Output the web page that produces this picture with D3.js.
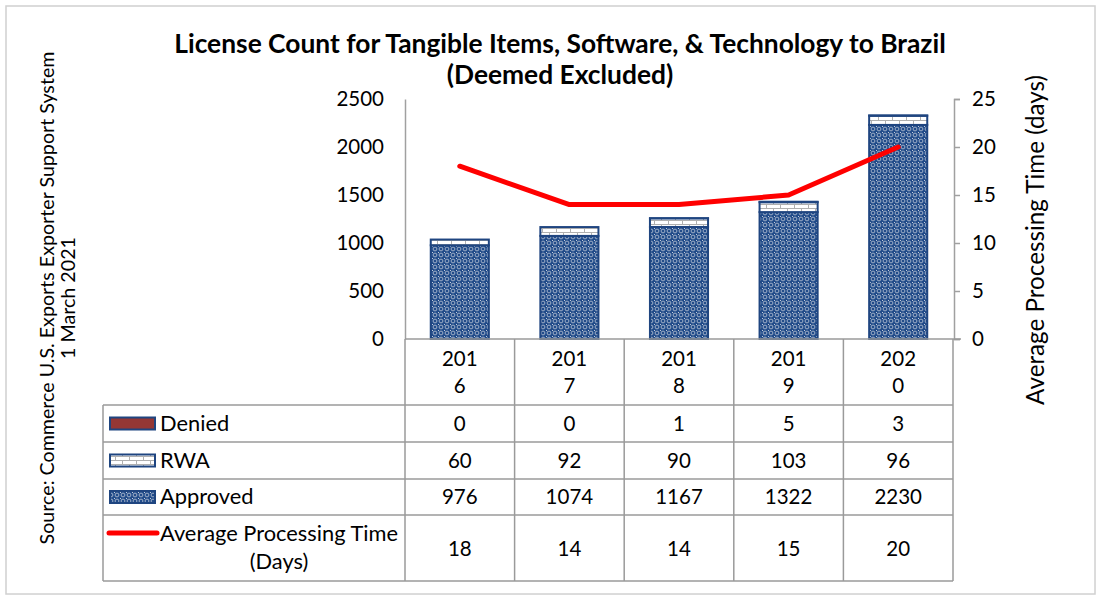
<!DOCTYPE html>
<html><head><meta charset="utf-8">
<script src="https://cdn.jsdelivr.net/npm/d3@7"></script>
<style>body{margin:0;background:#fff;}svg text{font-family:Lato,"Open Sans",sans-serif;fill:#000;}</style>
</head><body>
<svg id="c" width="1101" height="600"></svg>
<script>
const years = ["2016","2017","2018","2019","2020"];
const denied = [0,0,1,5,3];
const rwa = [60,92,90,103,96];
const approved = [976,1074,1167,1322,2230];
const avgDays = [18,14,14,15,20];
const leftTicks = [0,500,1000,1500,2000,2500];
const rightTicks = [0,5,10,15,20,25];
const titleLines = ["License Count for Tangible Items, Software, & Technology to Brazil","(Deemed Excluded)"];
const sourceLines = ["Source: Commerce U.S. Exports Exporter Support System","1 March 2021"];
const rightTitle = "Average Processing Time (days)";

const svg = d3.select("#c");
const defs = svg.append("defs");
const blue = "#1f4580";
const numSize = 20.5;

function fit(sel, w){
  sel.attr("font-size",100);
  const l = sel.node().getComputedTextLength();
  const fs = 100*w/l;
  sel.attr("font-size",fs);
  return fs;
}

// Approved pattern
const pA = defs.append("pattern").attr("id","pApp").attr("patternUnits","userSpaceOnUse").attr("width",6).attr("height",6);
pA.append("rect").attr("width",6).attr("height",6).attr("fill","#224c8a");
pA.append("circle").attr("cx",3).attr("cy",3).attr("r",1.9).attr("fill","none").attr("stroke","#a9b7cc").attr("stroke-width",0.9);
pA.append("rect").attr("x",0).attr("y",0).attr("width",1).attr("height",1).attr("fill","#c4cedc");
// RWA pattern (brick)
const pR = defs.append("pattern").attr("id","pRwa").attr("patternUnits","userSpaceOnUse").attr("width",14).attr("height",8);
pR.append("rect").attr("width",14).attr("height",8).attr("fill","#fff");
pR.append("path").attr("d","M0,0.5H14M0,4.5H14M3.5,0V4M10.5,4V8").attr("stroke","#b0b0b0").attr("stroke-width",1).attr("fill","none");

const x0 = 405, x1 = 953, yTop = 99, yBot = 339;
const x = d3.scaleBand().domain(years).range([x0,x1]).padding(0);
const yL = d3.scaleLinear().domain([0,2500]).range([yBot,yTop]);
const yR = d3.scaleLinear().domain([0,25]).range([yBot,yTop]);
const barW = x.bandwidth()*0.53;

// outer border
svg.append("rect").attr("x",6).attr("y",6).attr("width",1089).attr("height",588).attr("fill","none").attr("stroke","#d0d0d0").attr("stroke-width",1.5);

// title
const t1 = svg.append("text").attr("x",560).attr("y",53).attr("text-anchor","middle").attr("font-weight","bold").text(titleLines[0]);
const tfs = fit(t1, 772);
svg.append("text").attr("x",560).attr("y",84).attr("text-anchor","middle").attr("font-weight","bold").attr("font-size",tfs).text(titleLines[1]);

// source
const src = svg.append("g").attr("transform","translate(0,298) rotate(-90)");
const s1 = src.append("text").attr("x",0).attr("y",54).attr("text-anchor","middle").text(sourceLines[0]);
const sfs = fit(s1, 493);
src.append("text").attr("x",0).attr("y",75).attr("text-anchor","middle").attr("font-size",sfs).text(sourceLines[1]);

// right title
const rt = svg.append("text").attr("transform","translate(1044,240) rotate(-90)").attr("text-anchor","middle").text(rightTitle);
fit(rt, 330);

// bars
const data = years.map((y,i)=>({year:y,Approved:approved[i],RWA:rwa[i],Denied:denied[i]}));
const stack = d3.stack().keys(["Approved","RWA","Denied"])(data);
const fills = {Approved:"url(#pApp)",RWA:"url(#pRwa)",Denied:"#953735"};
stack.forEach(s=>{
  svg.append("g").selectAll("rect").data(s).join("rect")
    .attr("x",d=>x(d.data.year)+(x.bandwidth()-barW)/2)
    .attr("y",d=>yL(d[1]))
    .attr("width",barW)
    .attr("height",d=>Math.max(0,yL(d[0])-yL(d[1])))
    .attr("fill",fills[s.key]).attr("stroke",blue).attr("stroke-width",2);
});

// left axis
const gL = svg.append("g").attr("transform",`translate(${x0},0)`).call(d3.axisLeft(yL).tickValues(leftTicks).tickFormat(d3.format("d")).tickSize(0).tickPadding(21));
gL.select(".domain").attr("stroke","#a0a0a0").attr("stroke-width",1.5);
gL.selectAll("text").attr("font-size",numSize).attr("font-family","Lato");
// right axis
const gR = svg.append("g").attr("transform",`translate(${x1+1},0)`).call(d3.axisRight(yR).tickValues(rightTicks).tickSize(6).tickSizeOuter(6).tickPadding(12));
gR.select(".domain").attr("stroke","#a0a0a0").attr("stroke-width",1.5);
gR.selectAll(".tick line").attr("stroke","#a0a0a0").attr("stroke-width",1.5);
gR.selectAll("text").attr("font-size",numSize).attr("font-family","Lato");

// line
const line = d3.line().x((d,i)=>x(years[i])+x.bandwidth()/2).y(d=>yR(d));
svg.append("path").datum(avgDays).attr("d",line).attr("fill","none").attr("stroke","#ff0000").attr("stroke-width",5).attr("stroke-linejoin","round").attr("stroke-linecap","round");

// table
const gray = "#9a9a9a", tw = 1.5;
const rowsY = [yBot, 405, 442, 479, 515, 581];
const tLeft = 103;
const T = svg.append("g");
T.append("line").attr("x1",x0).attr("x2",x1+8).attr("y1",yBot).attr("y2",yBot).attr("stroke",gray).attr("stroke-width",tw);
rowsY.slice(1).forEach(y=>T.append("line").attr("x1",tLeft).attr("x2",x1).attr("y1",y).attr("y2",y).attr("stroke",gray).attr("stroke-width",tw));
[x0,...years.map(y=>x(y)+x.bandwidth())].forEach(v=>T.append("line").attr("x1",v).attr("x2",v).attr("y1",yBot).attr("y2",rowsY[5]).attr("stroke",gray).attr("stroke-width",tw));
T.append("line").attr("x1",tLeft).attr("x2",tLeft).attr("y1",405).attr("y2",rowsY[5]).attr("stroke",gray).attr("stroke-width",tw);

years.forEach(y=>{
  const cx = x(y)+x.bandwidth()/2;
  T.append("text").attr("x",cx).attr("y",366).attr("text-anchor","middle").attr("font-size",numSize).text(y.slice(0,3));
  T.append("text").attr("x",cx).attr("y",393).attr("text-anchor","middle").attr("font-size",numSize).text(y.slice(3));
});
const rows = [denied,rwa,approved];
rows.forEach((arr,ri)=>{
  const cy = (rowsY[ri+1]+rowsY[ri+2])/2 + 7;
  arr.forEach((v,i)=>T.append("text").attr("x",x(years[i])+x.bandwidth()/2).attr("y",cy).attr("text-anchor","middle").attr("font-size",numSize).text(v));
});
avgDays.forEach((v,i)=>T.append("text").attr("x",x(years[i])+x.bandwidth()/2).attr("y",556).attr("text-anchor","middle").attr("font-size",numSize).text(v));

// legend
const legend = [["Denied","#953735"],["RWA","url(#pRwa)"],["Approved","url(#pApp)"]];
const lt = T.append("text").attr("x",279).attr("y",541).attr("text-anchor","middle").text("Average Processing Time");
const lfs = fit(lt, 238);
T.append("text").attr("x",279).attr("y",569).attr("text-anchor","middle").attr("font-size",lfs).text("(Days)");
legend.forEach((l,i)=>{
  const cy = (rowsY[i+1]+rowsY[i+2])/2;
  T.append("rect").attr("x",110).attr("y",cy-6).attr("width",45).attr("height",12).attr("fill",l[1]).attr("stroke",blue).attr("stroke-width",2);
  T.append("text").attr("x",160).attr("y",cy+7).attr("font-size",lfs).text(l[0]);
});
T.append("line").attr("x1",109).attr("x2",157).attr("y1",533).attr("y2",533).attr("stroke","#ff0000").attr("stroke-width",5).attr("stroke-linecap","round");
</script>
</body></html>
